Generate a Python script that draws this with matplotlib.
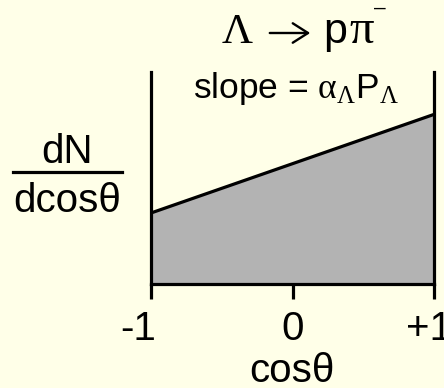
"""
Lambda -> p pi- decay angular distribution sketch
"""

import matplotlib
matplotlib.use("Agg")
import matplotlib.pyplot as plt
import matplotlib.transforms as mtransforms
from matplotlib.patches import FancyArrowPatch

plt.rcParams["font.family"] = ["Liberation Sans", "DejaVu Sans"]
plt.rcParams["mathtext.fontset"] = "custom"
plt.rcParams["mathtext.rm"] = "Liberation Serif"
plt.rcParams["mathtext.it"] = "Liberation Serif"
plt.rcParams["mathtext.sf"] = "Liberation Sans"

# ── Data ──────────────────────────────────────────────────────────────────────
cos_theta = [-1.0, 1.0]
dn_dcos = [0.335, 0.80]
tick_vals = [-1, 0, 1]
tick_text = ["-1", "0", "+1"]

# ── Palette ───────────────────────────────────────────────────────────────────
C_BG = "#FFFFE8"
C_FILL = "#B3B3B3"
C_INK = "black"
SERIF = ["Liberation Serif", "DejaVu Serif"]

W, H = 444, 388
fig = plt.figure(figsize=(W / 100, H / 100), dpi=100, facecolor=C_BG)

def fx(px):
    return px / W

def fy(py):
    return 1 - py / H

# axes box in pixels: x 151..434, y 72..284
ax = fig.add_axes([fx(151), fy(284), fx(434) - fx(151), fy(72) - fy(284)])
ax.set_facecolor(C_BG)
ax.set_xlim(-1, 1)
ax.set_ylim(0, 1)

ax.fill_between(cos_theta, 0, dn_dcos, color=C_FILL, lw=0, zorder=1)
ax.plot(cos_theta, dn_dcos, color=C_INK, lw=2.3, solid_capstyle="butt", zorder=2)

for s in ["left", "right", "bottom"]:
    ax.spines[s].set_linewidth(2.3)
    ax.spines[s].set_color(C_INK)
ax.spines["top"].set_visible(False)

ax.set_yticks([])
ax.set_xticks(tick_vals)
ax.set_xticklabels(tick_text, fontsize=29)
ax.tick_params(axis="x", direction="out", length=10.5, width=2.3, pad=8, color=C_INK)

# nudge the end labels like the hand-placed original
for lab, dx in zip(ax.get_xticklabels(), [-13, 0, -5]):
    lab.set_transform(lab.get_transform() + mtransforms.ScaledTranslation(dx / 100, 0, fig.dpi_scale_trans))

# ── Title: Λ → pπ⁻ (mixed fonts, placed piece by piece) ──────────────────────
fig.text(fx(222), fy(43), "\u039b", family=SERIF, fontsize=31, va="baseline")
fig.add_artist(FancyArrowPatch((fx(267), fy(33)), (fx(313), fy(33)),
                               transform=fig.transFigure,
                               arrowstyle="->,head_length=0.55,head_width=0.35",
                               mutation_scale=20, lw=1.7, color=C_INK))
fig.text(fx(323), fy(43), "p", fontsize=31, va="baseline")
fig.text(fx(349), fy(43), "\u03c0", family=SERIF, fontsize=35, va="baseline")
fig.text(fx(374), fy(14), "\u2013", fontsize=15, va="baseline")

fig.text(fx(296), fy(98), r"slope = $\alpha_{\Lambda}\mathsf{P}_{\Lambda}$",
         ha="center", va="baseline", fontsize=25.5)

# ── dN / dcosθ ────────────────────────────────────────────────────────────────
fig.text(fx(67), fy(163), "dN", ha="center", va="baseline", fontsize=29)
fig.lines.append(plt.Line2D([fx(13), fx(122)], [fy(172), fy(172)],
                            transform=fig.transFigure, color=C_INK, lw=2.3))
fig.text(fx(67), fy(212), "dcos\u03b8", ha="center", va="baseline", fontsize=29)

fig.text(fx(292), fy(382), "cos\u03b8", ha="center", va="baseline", fontsize=29)

fig.savefig("out.png", dpi=100, facecolor=C_BG)
